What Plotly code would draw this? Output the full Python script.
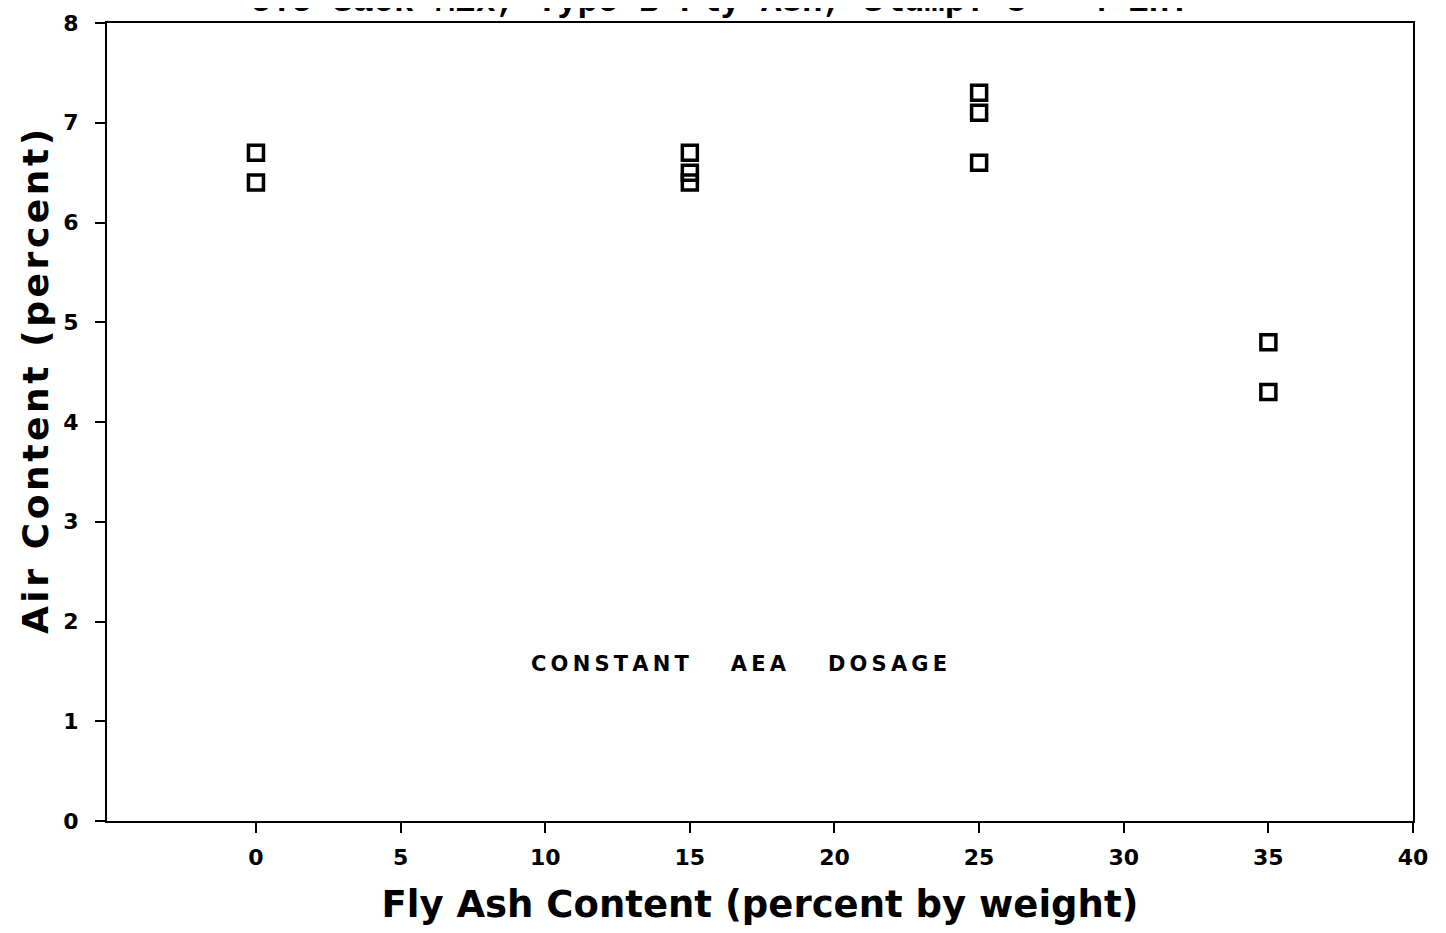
import plotly.graph_objects as go

fly_ash = [0, 0, 15, 15, 15, 25, 25, 25, 35, 35]
air_content = [6.7, 6.4, 6.7, 6.5, 6.4, 7.3, 7.1, 6.6, 4.8, 4.3]
x_ticks = [0, 5, 10, 15, 20, 25, 30, 35, 40]
y_ticks = [0, 1, 2, 3, 4, 5, 6, 7, 8]

title_text = "5.5 Sack Mix, Type B Fly Ash, Slump: 3 - 4 in."
y_title = "Air Content (percent)"
x_title = "Fly Ash Content (percent by weight)"
note_words = ["CONSTANT", "AEA", "DOSAGE"]
HS = "\u2009"
HAIR = "\u200a"
note_text = (HS * 10).join(HS.join(w) for w in note_words)
y_title_spaced = HAIR.join(y_title)

fig = go.Figure()
fig.add_trace(go.Scatter(
    x=fly_ash, y=air_content, mode="markers",
    marker=dict(symbol="square-open", size=15, color="black",
                line=dict(color="black", width=3.5)),
    showlegend=False,
))

axis_common = dict(showline=True, linecolor="black", linewidth=2, mirror=True,
                   ticks="outside", ticklen=10, tickwidth=2, tickcolor="black",
                   showgrid=False, zeroline=False,
                   tickfont=dict(family="DejaVu Sans", size=22, color="black", weight="bold"))

fig.update_xaxes(range=[-5.15, 40], tickvals=x_ticks, ticklabelstandoff=6,
                 automargin="bottom", **axis_common,
                 title=dict(text=x_title,
                            font=dict(family="DejaVu Sans", size=37, color="black", weight="bold"),
                            standoff=22))
fig.update_yaxes(range=[0, 8], tickvals=y_ticks, ticklabelstandoff=12,
                 automargin=False, **axis_common)

# y-axis title (placed slightly above centre, as in the original)
fig.add_annotation(x=0, y=4.4, xref="paper", yref="y", xshift=-72, text=y_title_spaced,
                   textangle=-90, showarrow=False, xanchor="center", yanchor="middle",
                   font=dict(family="DejaVu Sans", size=36, color="black", weight="bold"))

fig.add_annotation(x=16.7, y=1.57, xref="x", yref="y", text=note_text, showarrow=False,
                   font=dict(family="DejaVu Sans", size=21, color="black", weight="bold"))
fig.add_annotation(x=0.47, y=1.0, xref="paper", yref="paper", yshift=0,
                   text="<b>" + title_text + "</b>",
                   showarrow=False, yanchor="bottom",
                   font=dict(family="Liberation Mono, Courier New", size=34, color="black"))

fig.update_layout(width=1446, height=933, plot_bgcolor="white", paper_bgcolor="white",
                  margin=dict(l=99, r=41, t=15, b=120, autoexpand=False))
fig.write_html("out.html")
